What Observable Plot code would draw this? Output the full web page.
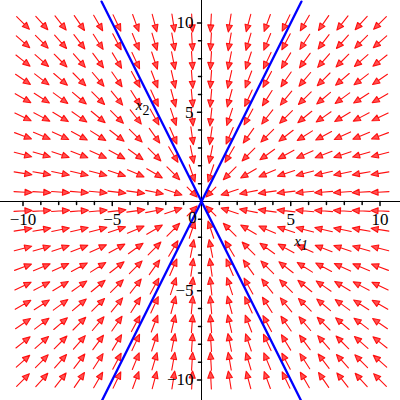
<!DOCTYPE html>
<html>
<head>
<meta charset="utf-8">
<script src="https://cdn.jsdelivr.net/npm/d3@7"></script>
<script src="https://cdn.jsdelivr.net/npm/@observablehq/plot@0.6"></script>
<style>
  html, body { margin: 0; padding: 0; background: #fff; }
  #chart svg { display: block; }
  #chart svg text { font-family: "Liberation Serif", "DejaVu Serif", serif; }
</style>
</head>
<body>
<div id="chart"></div>
<script>
// Grid of field points (20 x 20 over -10..10)
const gridVals = [-10, -8.947, -7.895, -6.842, -5.789, -4.737, -3.684, -2.632, -1.579, -0.526,
                  0.526, 1.579, 2.632, 3.684, 4.737, 5.789, 6.842, 7.895, 8.947, 10];
// Linear system x' = A x (star node toward the origin)
const sysRow1 = [-1, 0];
const sysRow2 = [0, -1];
// Straight-line solution slopes (blue)
const lineSlopes = [2, -2];
const lineXEnds = [-5.6, 5.6];
// Axis ticks and labels
const tickValues = [-10, -9, -8, -7, -6, -5, -4, -3, -2, -1, 1, 2, 3, 4, 5, 6, 7, 8, 9, 10];
const xLabelValues = [-10, -5, 5, 10];
const xLabelTexts = ["−10", "−5", "5", "10"];
const yLabelValues = [10, 5, -5, -10];
const yLabelTexts = ["10", "5", "−5", "−10"];

const field = [];
for (const gx of gridVals) for (const gy of gridVals) {
  const u = sysRow1[0] * gx + sysRow1[1] * gy;
  const v = sysRow2[0] * gx + sysRow2[1] * gy;
  const m = Math.hypot(u, v);
  field.push({x: gx, y: gy, rot: Math.atan2(u, v) * 180 / Math.PI, len: 18 * Math.min(1, m / 0.95)});
}
const lines = [];
lineSlopes.forEach((s, i) => lineXEnds.forEach(x => lines.push({k: i, x, y: s * x})));
const ticks = tickValues.map(t => ({t, major: t % 5 === 0}));

const arrowShape = {
  draw(ctx, l) {
    const h = 7, w = 3;
    ctx.moveTo(0, 0);
    ctx.lineTo(0, -l + h);
    ctx.moveTo(0, -l);
    ctx.lineTo(-w, -l + h);
    ctx.lineTo(w, -l + h);
    ctx.closePath();
  }
};
const lineShape = { draw(ctx, l) { ctx.moveTo(0, 0); ctx.lineTo(0, -l); } };

const serif = "Liberation Serif, DejaVu Serif, serif";

const chart = Plot.plot({
  width: 400,
  height: 400,
  margin: 0,
  x: {domain: [-11, 11], range: [4.65, 397.35], axis: null},
  y: {domain: [-11, 11], range: [397.35, 4.65], axis: null},
  length: {type: "identity"},
  style: {background: "#fff", fontFamily: serif},
  marks: [
    Plot.vector(field, {
      x: "x", y: "y", rotate: "rot", length: "len", anchor: "middle",
      shape: arrowShape, stroke: "#ff1010", fill: "#ff5050", strokeWidth: 1.1
    }),
    Plot.ruleY([0], {stroke: "#000", strokeWidth: 1}),
    Plot.ruleX([0], {stroke: "#000", strokeWidth: 1}),
    Plot.vector(ticks, {x: "t", y: 0, rotate: 180, anchor: "start", length: d => d.major ? 4 : 3, shape: lineShape, stroke: "#000"}),
    Plot.vector(ticks, {x: 0, y: "t", rotate: 270, anchor: "start", length: d => d.major ? 4 : 3, shape: lineShape, stroke: "#000"}),
    Plot.line(lines, {x: "x", y: "y", z: "k", stroke: "#0000ff", strokeWidth: 2.3, clip: true}),
    Plot.text(xLabelValues, {x: d => d, y: 0, text: (d, i) => xLabelTexts[i], dy: 18, fontSize: 17, fontFamily: serif, fill: "#000", lineAnchor: "middle"}),
    Plot.text([0], {x: 0, y: 0, text: () => "0", dx: -9, dy: 16, fontSize: 17, fontFamily: serif, fill: "#000", lineAnchor: "middle"}),
    Plot.text(yLabelValues, {x: 0, y: d => d, text: (d, i) => yLabelTexts[i], dx: -8, dy: 0, textAnchor: "end", fontSize: 17, fontFamily: serif, fill: "#000", lineAnchor: "middle"}),
    Plot.text([{x: 5.38, y: -2.2}], {x: "x", y: "y", text: () => "x", fontSize: 15, fontStyle: "italic", fontFamily: serif, fill: "#000", lineAnchor: "middle"}),
    Plot.text([{x: 5.38, y: -2.2}], {x: "x", y: "y", text: () => "1", dx: 7, dy: 5, fontSize: 14, fontStyle: "italic", fontFamily: serif, fill: "#000", lineAnchor: "middle"}),
    Plot.text([{x: -3.5, y: 5.4}], {x: "x", y: "y", text: () => "x", fontSize: 15, fontStyle: "italic", fontFamily: serif, fill: "#000", lineAnchor: "middle"}),
    Plot.text([{x: -3.5, y: 5.4}], {x: "x", y: "y", text: () => "2", dx: 7, dy: 5, fontSize: 14, fontFamily: serif, fill: "#000", lineAnchor: "middle"})
  ]
});
document.getElementById("chart").appendChild(chart);
</script>
</body>
</html>
